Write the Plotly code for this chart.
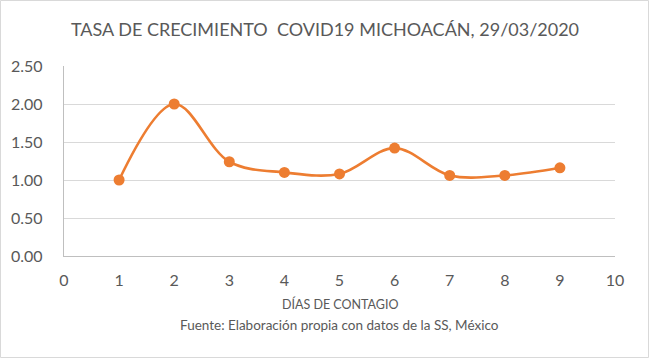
import plotly.graph_objects as go

dias = [1, 2, 3, 4, 5, 6, 7, 8, 9]
tasa = [1.00, 2.00, 1.24, 1.10, 1.08, 1.42, 1.06, 1.06, 1.16]
x_ticks = [0, 1, 2, 3, 4, 5, 6, 7, 8, 9, 10]
y_ticks = [0.0, 0.5, 1.0, 1.5, 2.0, 2.5]

title_text = "TASA DE CRECIMIENTO  COVID19 MICHOACÁN, 29/03/2020"
x_title = "DÍAS DE CONTAGIO"
source_text = "Fuente: Elaboración propia con datos de la SS, México"

W, H = 650, 358
L, R, T, B = 64, 35, 66, 102
pw, ph = W - L - R, H - T - B

def px_x(px):
    return (px - L) / pw

def px_y(py):
    return (H - B - py) / ph

FONT = "Lato"
GRAY = "#595959"

fig = go.Figure()
fig.add_trace(go.Scatter(
    x=dias, y=tasa, mode="lines+markers",
    line=dict(color="#ED7D31", width=2.6, shape="spline", smoothing=1.0),
    marker=dict(color="#ED7D31", size=11),
    showlegend=False, hoverinfo="x+y",
))

fig.update_layout(
    width=W, height=H,
    margin=dict(l=L, r=R, t=T, b=B),
    paper_bgcolor="white", plot_bgcolor="white",
    font=dict(family=FONT, color=GRAY),
    title=dict(text=title_text, x=0.5, xanchor="center",
               y=1 - 30 / H, yanchor="middle",
               font=dict(family=FONT, size=18, color=GRAY)),
    xaxis=dict(range=[0, 10], tickvals=x_ticks, ticktext=[str(v) for v in x_ticks],
               showgrid=False, zeroline=False, showline=True,
               linecolor="#BFBFBF", linewidth=1.3, ticks="",
               tickfont=dict(family=FONT, size=16, color=GRAY),
               ticklabelstandoff=10),
    yaxis=dict(range=[0, 2.5], tickvals=y_ticks, ticktext=[f"{v:.2f}" for v in y_ticks],
               showgrid=True, gridcolor="#D9D9D9", gridwidth=1,
               zeroline=False, showline=True, linecolor="#BFBFBF", linewidth=1.3,
               ticks="", tickfont=dict(family=FONT, size=16, color=GRAY),
               ticklabelstandoff=17),
    annotations=[
        dict(text=x_title, xref="paper", yref="paper", x=0.5, y=px_y(304),
             xanchor="center", yanchor="middle", showarrow=False,
             font=dict(family=FONT, size=12.5, color=GRAY)),
        dict(text=source_text, xref="paper", yref="paper", x=0.5, y=px_y(325),
             xanchor="center", yanchor="middle", showarrow=False,
             font=dict(family=FONT, size=13.5, color=GRAY)),
    ],
    shapes=[
        dict(type="rect", xref="paper", yref="paper",
             x0=px_x(0.5), x1=px_x(648.5), y0=px_y(357.5), y1=px_y(0.5),
             line=dict(color="#D9D9D9", width=1), layer="below"),
    ],
)

fig.write_html("out.html", config={"displayModeBar": False},
               post_script="document.body.style.margin='0';")
